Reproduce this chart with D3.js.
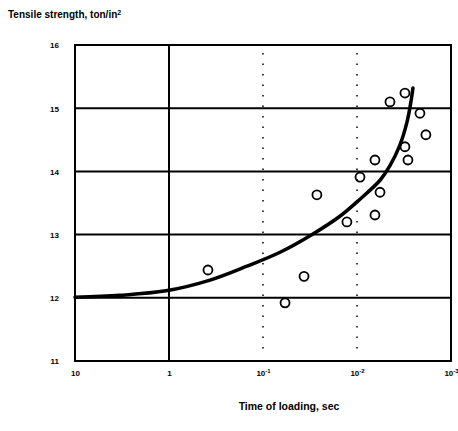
<!DOCTYPE html>
<html>
<head>
  <meta charset="utf-8">
  <script src="https://d3js.org/d3.v7.min.js"></script>
  <style>
    body { margin: 0; background: #fff; }
    svg text { font-family: "Liberation Sans", Arial, sans-serif; font-weight: bold; fill: #000; }
  </style>
</head>
<body>
  <script>
    // time of loading (sec) and tensile strength (ton/in^2)
    var pointTime = [0.385, 0.0366, 0.0583, 0.0267, 0.0128, 0.00644, 0.00929, 0.00569,
                     0.00644, 0.00287, 0.00309, 0.00185, 0.00214, 0.00446, 0.00309];
    var pointStrength = [12.44, 12.34, 11.92, 13.63, 13.20, 13.31, 13.91, 13.67,
                         14.18, 14.18, 14.39, 14.58, 14.92, 15.10, 15.24];

    var curveTime = [10, 3.32, 1.08, 0.366, 0.148, 0.0659, 0.0294, 0.0152, 0.00929,
                     0.00569, 0.00446, 0.00349, 0.00294, 0.00267, 0.00254];
    var curveStrength = [12.01, 12.04, 12.11, 12.28, 12.50, 12.72, 13.01, 13.29, 13.56,
                         13.86, 14.09, 14.42, 14.78, 15.10, 15.32];

    var xTicks = [10, 1, 0.1, 0.01, 0.001];
    var xTickBase = ["10", "1", "10", "10", "10"];
    var xTickExp = ["", "", "-1", "-2", "-3"];
    var yTicks = [11, 12, 13, 14, 15, 16];

    var width = 458, height = 431;
    var mLeft = 75, mRight = 451, mTop = 45, mBottom = 361;

    var svg = d3.select("body").append("svg")
      .attr("width", width)
      .attr("height", height);

    var x = d3.scaleLog().domain([10, 0.001]).range([mLeft, mRight]);
    var y = d3.scaleLinear().domain([11, 16]).range([mBottom, mTop]);

    // horizontal grid lines
    svg.selectAll("line.hgrid")
      .data([12, 13, 14, 15])
      .enter().append("line")
      .attr("class", "hgrid")
      .attr("x1", mLeft).attr("x2", mRight)
      .attr("y1", function(d) { return y(d); })
      .attr("y2", function(d) { return y(d); })
      .attr("stroke", "#000").attr("stroke-width", 2);

    // solid vertical at 1 sec
    svg.append("line")
      .attr("x1", x(1)).attr("x2", x(1))
      .attr("y1", mTop).attr("y2", mBottom)
      .attr("stroke", "#000").attr("stroke-width", 2);

    // dotted verticals
    svg.selectAll("line.vdot")
      .data([0.1, 0.01])
      .enter().append("line")
      .attr("class", "vdot")
      .attr("x1", function(d) { return x(d); })
      .attr("x2", function(d) { return x(d); })
      .attr("y1", mTop + 8).attr("y2", mBottom - 8)
      .attr("stroke", "#000").attr("stroke-width", 1.5)
      .attr("stroke-dasharray", "1.5,9");

    // frame
    svg.append("rect")
      .attr("x", mLeft).attr("y", mTop)
      .attr("width", mRight - mLeft).attr("height", mBottom - mTop)
      .attr("fill", "none").attr("stroke", "#000").attr("stroke-width", 2);

    // axes (labels only)
    var yAxis = svg.append("g")
      .attr("transform", "translate(" + (mLeft - 16) + ",0)")
      .call(d3.axisLeft(y).tickValues(yTicks).tickSize(0).tickFormat(d3.format("d")));
    yAxis.select(".domain").remove();
    yAxis.selectAll("text").style("font-size", "8px").attr("x", 0).attr("dy", "0.35em");

    var xAxis = svg.append("g")
      .attr("transform", "translate(0," + (mBottom + 6) + ")")
      .call(d3.axisBottom(x).tickValues(xTicks).tickSize(0).tickFormat(""));
    xAxis.select(".domain").remove();
    xAxis.selectAll(".tick text").each(function(d, i) {
      var t = d3.select(this).style("font-size", "8px");
      t.append("tspan").text(xTickBase[i]);
      if (xTickExp[i]) {
        t.append("tspan").attr("dy", "-0.4em").style("font-size", "6px").text(xTickExp[i]);
      }
    });

    // fitted curve
    var line = d3.line()
      .x(function(d) { return x(d[0]); })
      .y(function(d) { return y(d[1]); })
      .curve(d3.curveCatmullRom.alpha(0.5));

    svg.append("path")
      .datum(d3.zip(curveTime, curveStrength))
      .attr("d", line)
      .attr("fill", "none")
      .attr("stroke", "#000")
      .attr("stroke-width", 3.5)
      .attr("stroke-linecap", "round");

    // test points
    svg.selectAll("circle")
      .data(d3.zip(pointTime, pointStrength))
      .enter().append("circle")
      .attr("cx", function(d) { return x(d[0]); })
      .attr("cy", function(d) { return y(d[1]); })
      .attr("r", 4.5)
      .attr("fill", "none")
      .attr("stroke", "#000")
      .attr("stroke-width", 1.8);

    // titles
    var title = svg.append("text")
      .attr("x", 8).attr("y", 18)
      .style("font-size", "10px");
    title.append("tspan").text("Tensile strength, ton/in");
    title.append("tspan").attr("dy", "-0.45em").style("font-size", "7px").text("2");

    svg.append("text")
      .attr("x", 289).attr("y", 410)
      .attr("text-anchor", "middle")
      .style("font-size", "10.5px")
      .text("Time of loading, sec");
  </script>
</body>
</html>
